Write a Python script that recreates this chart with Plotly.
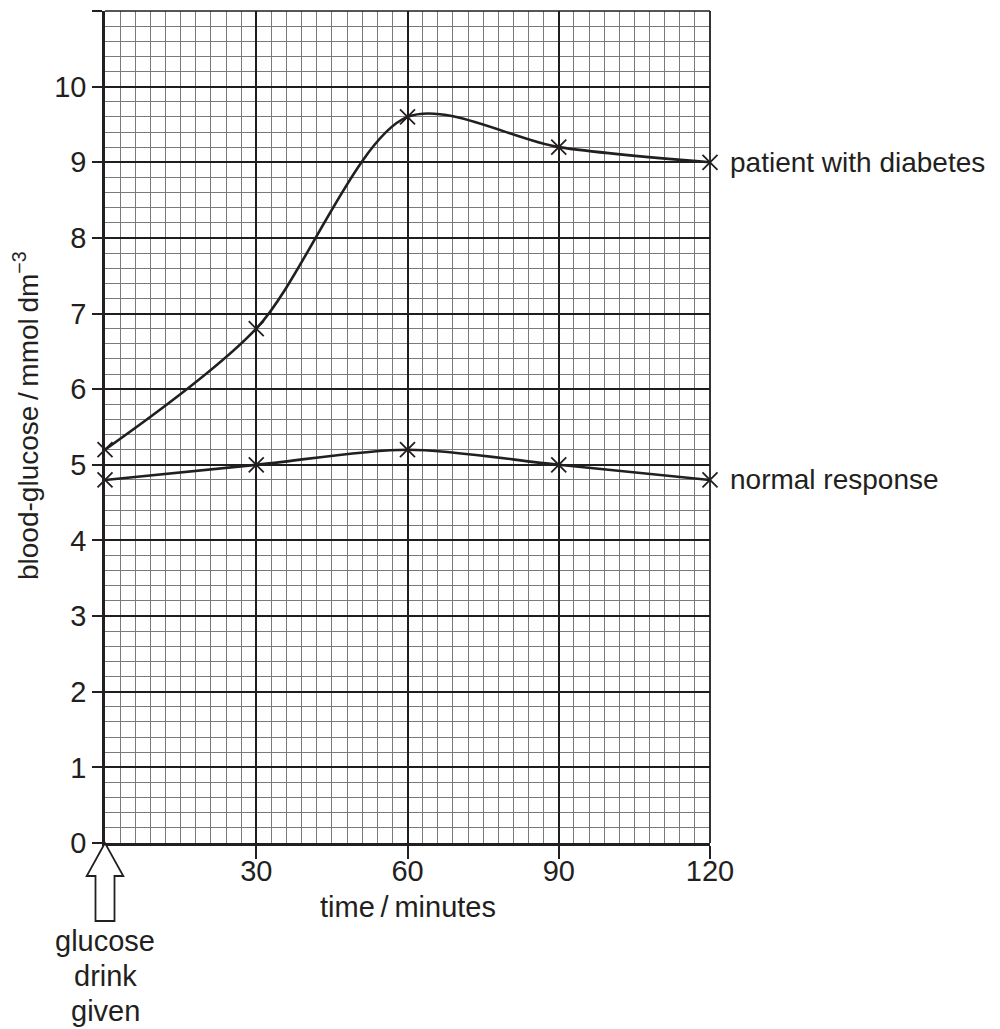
import plotly.graph_objects as go

# ---- data ----
time_min = [0, 30, 60, 90, 120]
diabetes = [5.2, 6.8, 9.6, 9.2, 9.0]
normal = [4.8, 5.0, 5.2, 5.0, 4.8]
series_labels = ["patient with diabetes", "normal response"]

INK = "#231f20"
FONT = "Liberation Sans, Arial, Helvetica, sans-serif"
FS = 29

# the page body has an 8px default margin; compensate so the plot sits
# where it does in the reference
BODY = 8
W, H = 1000 - BODY, 1029 - BODY
ML, MR, MT, MB = 105 - BODY, 290, 11 - BODY, 186
PW = W - ML - MR
PH = H - MT - MB
Y0 = 843  # page y of the x axis


def px(dx):
    return dx / PW


def py(dy):
    return dy / PH


def page_y(y):
    return py(Y0 - y)


fig = go.Figure()
for ys in (diabetes, normal):
    fig.add_trace(go.Scatter(
        x=time_min, y=ys, mode="lines+markers", cliponaxis=False,
        line=dict(color=INK, width=2.6, shape="spline", smoothing=0.85),
        marker=dict(symbol="x-thin", size=15, color=INK,
                    line=dict(width=1.8, color=INK)),
        showlegend=False, hoverinfo="skip"))

grid_major = "#1e1e1e"
grid_minor = "#7a7a7a"

fig.update_xaxes(
    range=[0, 120], tickmode="linear", tick0=0, dtick=30,
    labelalias={"0": " "},
    showgrid=True, gridcolor=grid_major, gridwidth=1.6,
    minor=dict(tick0=0, dtick=3, showgrid=True, gridcolor=grid_minor, gridwidth=1),
    showline=True, linecolor=INK, linewidth=2.6,
    ticks="outside", ticklen=13, tickwidth=2, tickcolor=INK,
    ticklabelstandoff=-13,
    zeroline=False, tickfont=dict(family=FONT, size=FS, color=INK))
fig.update_yaxes(
    range=[0, 10.99999], tickmode="linear", tick0=0, dtick=1,
    showgrid=True, gridcolor=grid_major, gridwidth=1.6,
    minor=dict(tick0=0, dtick=0.2, showgrid=True, gridcolor=grid_minor, gridwidth=1),
    showline=True, linecolor=INK, linewidth=2.6,
    ticks="outside", ticklen=10, tickwidth=2, tickcolor=INK,
    zeroline=False, tickfont=dict(family=FONT, size=FS, color=INK))

shapes = [
    dict(type="line", xref="paper", yref="paper", x0=0, x1=1, y0=1, y1=1,
         line=dict(color=grid_major, width=1.4)),
    dict(type="line", xref="paper", yref="paper", x0=1, x1=1, y0=0, y1=1,
         line=dict(color=grid_major, width=1.8)),
]
# outline arrow under the origin
hw, sw, hb, sb = px(18.3), px(9.5), py(-33), py(-78)
path = (f"M 0,0 L {-hw},{hb} L {-sw},{hb} L {-sw},{sb} L {sw},{sb} "
        f"L {sw},{hb} L {hw},{hb} Z")
shapes.append(dict(type="path", xref="paper", yref="paper", path=path,
                   line=dict(color=INK, width=1.8), fillcolor="white"))
fig.update_layout(shapes=shapes)

annos = []
for lab, ys in zip(series_labels, (diabetes, normal)):
    annos.append(dict(x=time_min[-1], y=ys[-1], xref="x", yref="y",
                      text=lab, showarrow=False, xanchor="left", yanchor="middle",
                      xshift=18, font=dict(family=FONT, size=28, color=INK)))
annos.append(dict(x=px(26 - 105), y=page_y(416), xref="paper", yref="paper",
                  text="blood-glucose\u2009/\u2009mmol\u2009dm<sup>\u22123</sup>",
                  textangle=-90, showarrow=False, xanchor="center", yanchor="middle",
                  font=dict(family=FONT, size=28, color=INK)))
annos.append(dict(x=0.5, y=page_y(907), xref="paper", yref="paper",
                  text="time\u2009/\u2009minutes", showarrow=False,
                  xanchor="center", yanchor="middle",
                  font=dict(family=FONT, size=FS, color=INK)))
for i, word in enumerate(["glucose", "drink", "given"]):
    annos.append(dict(x=0, y=page_y(941 + 35 * i), xref="paper", yref="paper",
                      text=word, showarrow=False, xanchor="center", yanchor="middle",
                      font=dict(family=FONT, size=FS, color=INK)))
fig.update_layout(annotations=annos)

fig.update_layout(
    width=W, height=H,
    margin=dict(l=ML, r=MR, t=MT, b=MB),
    paper_bgcolor="white", plot_bgcolor="white",
    font=dict(family=FONT, size=FS, color=INK))

fig.write_html("out.html")
